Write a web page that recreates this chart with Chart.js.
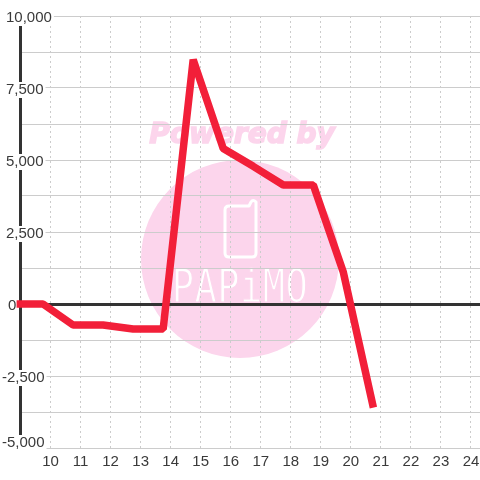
<!DOCTYPE html>
<html>
<head>
<meta charset="utf-8">
<style>
  html, body { margin: 0; padding: 0; background: #fff; }
  canvas { display: block; }
</style>
<script src="https://cdn.jsdelivr.net/npm/chart.js@4/dist/chart.umd.min.js"></script>
</head>
<body>
<canvas id="grafik" width="480" height="480"></canvas>
<script>
// data
const hours = [8.87, 9.75, 10.75, 11.75, 12.75, 13.75, 14.75, 15.75, 16.75, 17.75, 18.75, 19.75, 20.75];
const values = [0, 0, -730, -730, -870, -870, 8480, 5400, 4780, 4130, 4130, 1100, -3600];
const xTickValues = [10, 11, 12, 13, 14, 15, 16, 17, 18, 19, 20, 21, 22, 23, 24];
const yTickValues = [10000, 7500, 5000, 2500, 0, -2500, -5000];
const yTickLabels = ['10,000', '7,500', '5,000', '2,500', '0', '-2,500', '-5,000'];

const textColor = '#3a3a3a';
const gridColor = '#cccccc';
const labelFont = '15px "Liberation Sans"';

// logo behind the grid
const watermark = {
  id: 'watermark',
  beforeDraw(chart) {
    const c = chart.ctx;
    c.save();
    c.fillStyle = '#fcd5ec';
    c.beginPath();
    c.arc(240, 259, 99, 0, Math.PI * 2);
    c.fill();

    c.font = 'italic bold 28px "DejaVu Sans"';
    c.textAlign = 'center';
    c.textBaseline = 'middle';
    c.strokeStyle = '#fcd5ec';
    c.lineWidth = 1.5;
    c.fillText('Powered by', 242, 136);
    c.strokeText('Powered by', 242, 136);

    // phone
    c.strokeStyle = '#ffffff';
    c.lineWidth = 3;
    c.lineJoin = 'round';
    c.beginPath();
    c.moveTo(249, 206);
    c.lineTo(229, 206);
    c.quadraticCurveTo(225, 206, 225, 210);
    c.lineTo(225, 253);
    c.quadraticCurveTo(225, 257, 229, 257);
    c.lineTo(252, 257);
    c.quadraticCurveTo(256, 257, 256, 253);
    c.lineTo(256, 202);
    c.quadraticCurveTo(253, 199, 251, 202);
    c.closePath();
    c.stroke();

    // thin white lettering: pink outline eats into the glyphs
    c.fillStyle = '#ffffff';
    c.strokeStyle = '#fcd5ec';
    c.lineWidth = 1;
    c.translate(240, 290);
    c.scale(1, 1.25);
    c.font = '37px "DejaVu Sans Mono"';
    c.letterSpacing = '0.5px';
    c.textAlign = 'center';
    c.fillText('PAPiMO', 0, 0);
    c.strokeText('PAPiMO', 0, 0);
    c.restore();
  }
};

// y labels sit on white boxes over the axis line, left aligned
const yLabels = {
  id: 'yLabels',
  beforeDatasetsDraw(chart) {
    const c = chart.ctx;
    const scale = chart.scales.y;
    c.save();
    c.font = labelFont;
    c.textBaseline = 'middle';
    c.textAlign = 'left';
    yTickValues.forEach(function (v, i) {
      const text = yTickLabels[i];
      const y = scale.getPixelForValue(v) + (v === -5000 ? -5 : 2);
      const x = v < 0 ? 2 : (v === 0 ? 8 : 6);
      const w = c.measureText(text).width;
      c.fillStyle = '#ffffff';
      c.fillRect(x - 2, y - 8, w + 4, 16);
      c.fillStyle = textColor;
      c.fillText(text, x, y);
    });
    c.restore();
  }
};

new Chart(document.getElementById('grafik').getContext('2d'), {
  type: 'line',
  data: {
    datasets: [{
      data: hours.map(function (h, i) { return { x: h, y: values[i] }; }),
      borderColor: '#f21f39',
      borderWidth: 7.5,
      borderJoinStyle: 'bevel',
      borderCapStyle: 'butt',
      pointRadius: 0,
      tension: 0,
      clip: false
    }]
  },
  plugins: [watermark, yLabels],
  options: {
    responsive: false,
    animation: false,
    layout: { padding: { top: 16, left: 0, right: 0, bottom: 0 } },
    plugins: {
      legend: { display: false },
      title: { display: false },
      tooltip: { enabled: false }
    },
    scales: {
      x: {
        type: 'linear',
        min: 9,
        max: 24.3,
        afterFit(scale) { scale.height = 32; scale.paddingRight = 0; },
        afterBuildTicks(scale) {
          scale.ticks = xTickValues.map(function (v) { return { value: v }; });
        },
        ticks: {
          stepSize: 1,
          autoSkip: false,
          maxRotation: 0,
          padding: 5,
          color: textColor,
          font: { family: 'Liberation Sans', size: 15 }
        },
        grid: { color: gridColor, lineWidth: 1, drawTicks: false },
        border: { dash: [2, 3], color: gridColor, width: 1 }
      },
      y: {
        min: -5000,
        max: 10000,
        afterFit(scale) { scale.width = 20.5; },
        ticks: { stepSize: 1250, display: false },
        grid: {
          drawTicks: false,
          color(ctx) { return ctx.tick && ctx.tick.value === 0 ? '#333333' : gridColor; },
          lineWidth(ctx) { return ctx.tick && ctx.tick.value === 0 ? 3 : 1; }
        },
        border: { color: '#333333', width: 3 }
      }
    }
  }
});
</script>
</body>
</html>
